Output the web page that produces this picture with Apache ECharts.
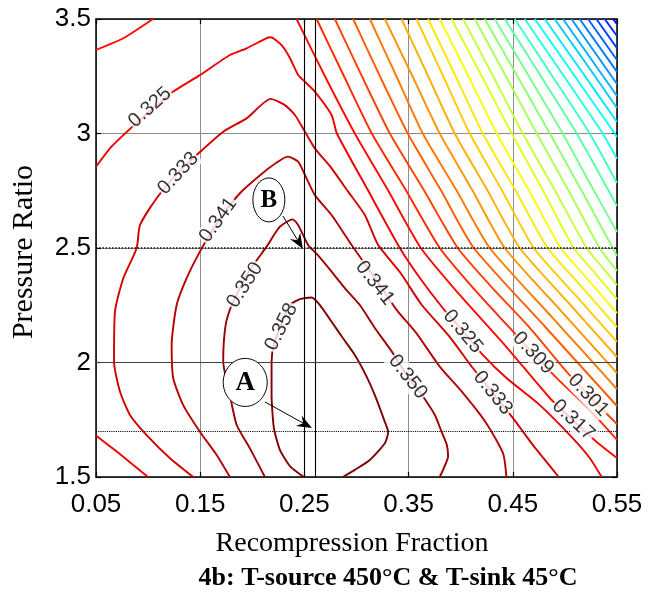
<!DOCTYPE html>
<html><head><meta charset="utf-8">
<script src="https://cdn.jsdelivr.net/npm/echarts/dist/echarts.min.js"></script>
<style>html,body{margin:0;padding:0;background:#fff}#c{width:659px;height:595px}</style>
</head><body><div id="c"></div>
<script>
// ---- tick labels ----
const xTickLabels = ['0.05','0.15','0.25','0.35','0.45','0.55'];
const yTickLabels = ['1.5','2','2.5','3','3.5'];

// ---- contour levels (descending) ----
const levels = [0.358,0.350,0.341,0.333,0.325,0.317,0.309,0.301,0.293,0.285,0.277,0.269,0.261,0.253,0.245,0.237,0.229,0.221,0.213,0.205,0.197,0.189,0.181,0.173,0.165,0.157,0.149,0.141,0.133,0.125,0.117,0.109,0.101];

// ---- contour paths [recompression fraction, pressure ratio] ----
const c358 = [[0.2495,1.5],[0.2361,1.548],[0.2265,1.618],[0.2207,1.714],[0.2185,1.858],[0.2185,2.002],[0.2207,2.076],[0.2294,2.186],[0.2361,2.251],[0.2457,2.277],[0.2569,2.284],[0.2649,2.251],[0.2761,2.178],[0.2869,2.107],[0.2984,2.033],[0.3090,1.945],[0.3176,1.858],[0.3272,1.741],[0.3304,1.697],[0.3272,1.647],[0.3128,1.574],[0.2984,1.531],[0.2869,1.5]];
const c350 = [[0.2121,1.5],[0.1977,1.625],[0.1850,1.727],[0.1785,1.858],[0.1721,2.003],[0.1728,2.098],[0.1754,2.186],[0.1833,2.282],[0.1977,2.404],[0.2137,2.506],[0.2265,2.593],[0.2387,2.625],[0.2440,2.600],[0.2536,2.513],[0.2629,2.469],[0.2761,2.397],[0.2888,2.325],[0.3032,2.251],[0.3176,2.151],[0.3349,2.041],[0.3493,1.937],[0.3608,1.871],[0.3752,1.771],[0.3816,1.698],[0.3867,1.640],[0.3879,1.589],[0.3838,1.539],[0.3799,1.5]];
const c341 = [[0.1785,1.5],[0.1658,1.596],[0.1497,1.698],[0.1337,1.814],[0.1241,1.931],[0.1226,2.076],[0.1274,2.251],[0.1370,2.368],[0.1497,2.484],[0.1670,2.614],[0.1881,2.739],[0.2137,2.841],[0.2344,2.899],[0.2440,2.877],[0.2505,2.819],[0.2600,2.731],[0.2761,2.644],[0.2953,2.513],[0.3176,2.369],[0.3387,2.229],[0.3576,2.127],[0.3799,1.982],[0.4023,1.866],[0.4247,1.734],[0.4407,1.603],[0.4439,1.5]];
const c333 = [[0.1433,1.5],[0.1210,1.582],[0.0986,1.683],[0.0826,1.771],[0.0730,1.873],[0.0673,2.003],[0.0682,2.222],[0.0762,2.368],[0.0890,2.499],[0.0922,2.600],[0.1082,2.717],[0.1286,2.828],[0.1497,2.919],[0.1721,3.008],[0.1945,3.066],[0.2176,3.151],[0.2313,3.124],[0.2409,3.081],[0.2505,3.008],[0.2600,2.935],[0.2761,2.848],[0.2920,2.746],[0.3080,2.644],[0.3208,2.513],[0.3416,2.395],[0.3627,2.251],[0.3896,2.111],[0.4116,1.976],[0.4308,1.867],[0.4500,1.758],[0.4692,1.640],[0.4941,1.5]];
const c325 = [[0.0500,2.855],[0.0634,2.935],[0.0762,2.993],[0.1018,3.098],[0.1241,3.183],[0.1497,3.255],[0.1785,3.343],[0.1945,3.372],[0.2137,3.416],[0.2176,3.420],[0.2281,3.386],[0.2361,3.330],[0.2440,3.255],[0.2505,3.226],[0.2600,3.183],[0.2761,3.081],[0.2812,3.000],[0.3109,2.753],[0.3416,2.500],[0.3608,2.369],[0.3828,2.238],[0.4020,2.138],[0.4212,2.033],[0.4439,1.932],[0.4759,1.814],[0.5075,1.670],[0.5238,1.583],[0.5353,1.5]];
const c325corner = [[0.0500,1.681],[0.0699,1.611],[0.0858,1.552],[0.0999,1.5]];
const c317left = [[0.0500,3.365],[0.0762,3.416],[0.1047,3.5]];
const c317 = [[0.2425,3.5],[0.2696,3.251],[0.2984,3.0],[0.3301,2.753],[0.3617,2.5],[0.3991,2.295],[0.4423,2.076],[0.4855,1.845],[0.5075,1.749],[0.5305,1.653],[0.55,1.583]];
const c309 = [[0.2617,3.5],[0.2879,3.251],[0.3147,3.0],[0.3473,2.753],[0.3799,2.5],[0.4135,2.317],[0.4471,2.151],[0.4691,2.041],[0.4922,1.932],[0.5238,1.793],[0.55,1.662]];
const c301 = [[0.2792,3.5],[0.3051,3.251],[0.3320,3.0],[0.3646,2.753],[0.3972,2.5],[0.4279,2.338],[0.4663,2.151],[0.5018,1.959],[0.5224,1.858],[0.55,1.731]];
const c293 = [[0.2968,3.5],[0.3224,3.251],[0.3492,3.0],[0.3809,2.753],[0.4126,2.5],[0.4812,2.155],[0.55,1.810]];
const c285 = [[0.3128,3.5],[0.3382,3.251],[0.3636,3.0],[0.3958,2.753],[0.4279,2.5],[0.4888,2.192],[0.55,1.884]];
const c277 = [[0.3272,3.5],[0.3536,3.251],[0.3799,3.0],[0.4111,2.753],[0.4423,2.5],[0.4960,2.227],[0.55,1.954]];
const c269 = [[0.3432,3.5],[0.3687,3.251],[0.3943,3.0],[0.4255,2.753],[0.4567,2.5],[0.5032,2.262],[0.55,2.024]];
const c261 = [[0.3576,3.5],[0.3831,3.251],[0.4087,3.0],[0.4394,2.753],[0.4701,2.5],[0.5099,2.295],[0.55,2.090]];
const c253 = [[0.3687,3.5],[0.3950,3.251],[0.4212,3.0],[0.4524,2.753],[0.4835,2.5],[0.5166,2.328],[0.55,2.155]];
const c245 = [[0.3799,3.5],[0.4073,3.251],[0.4346,3.0],[0.4653,2.753],[0.4960,2.5],[0.5229,2.358],[0.55,2.216]];
const c237 = [[0.3912,3.5],[0.4201,3.251],[0.4490,3.0],[0.4787,2.753],[0.5085,2.5],[0.5291,2.389],[0.55,2.277]];
const c229 = [[0.4023,3.5],[0.4310,3.251],[0.4596,3.0],[0.4902,2.753],[0.5209,2.5],[0.5353,2.419],[0.55,2.338]];
const c221 = [[0.4135,3.5],[0.4432,3.251],[0.4730,3.0],[0.5032,2.753],[0.5334,2.5],[0.55,2.400]];
const c213 = [[0.4231,3.5],[0.4543,3.251],[0.4855,3.0],[0.5157,2.753],[0.5459,2.5],[0.55,2.465]];
const c205 = [[0.4327,3.5],[0.4653,3.251],[0.4979,3.0],[0.5238,2.784],[0.55,2.570]];
const c197 = [[0.4423,3.5],[0.4768,3.251],[0.5114,3.0],[0.55,2.683]];
const c189 = [[0.4519,3.5],[0.4879,3.251],[0.5238,3.0],[0.55,2.784]];
const c181 = [[0.4615,3.5],[0.4989,3.251],[0.5363,3.0],[0.55,2.889]];
const c173 = [[0.4711,3.5],[0.5094,3.251],[0.5478,3.0],[0.55,2.985]];
const c165 = [[0.4807,3.5],[0.5152,3.277],[0.55,3.050]];
const c157 = [[0.4902,3.5],[0.5200,3.308],[0.55,3.111]];
const c149 = [[0.4982,3.5],[0.55,3.164]];
const c141 = [[0.5063,3.5],[0.55,3.216]];
const c133 = [[0.5142,3.5],[0.55,3.269]];
const c125 = [[0.5222,3.5],[0.55,3.321]];
const c117 = [[0.5302,3.5],[0.55,3.373]];
const c109 = [[0.5382,3.5],[0.55,3.426]];
const c101 = [[0.5462,3.5],[0.55,3.478]];

const contours = [
  [0.358,c358],[0.350,c350],[0.341,c341],[0.333,c333],[0.325,c325],[0.325,c325corner],
  [0.317,c317left],[0.317,c317],[0.309,c309],[0.301,c301],[0.293,c293],[0.285,c285],
  [0.277,c277],[0.269,c269],[0.261,c261],[0.253,c253],[0.245,c245],[0.237,c237],
  [0.229,c229],[0.221,c221],[0.213,c213],[0.205,c205],[0.197,c197],[0.189,c189],
  [0.181,c181],[0.173,c173],[0.165,c165],[0.157,c157],[0.149,c149],[0.141,c141],
  [0.133,c133],[0.125,c125],[0.117,c117],[0.109,c109],[0.101,c101]
];

// ---- contour labels: text, x, y, angle ----
const labelText  = ['0.325','0.333','0.341','0.350','0.358','0.341','0.350','0.325','0.333','0.309','0.317','0.301'];
const labelX     = [0.1018,0.1289,0.1673,0.1929,0.2279,0.3176,0.3492,0.4020,0.4308,0.4696,0.5080,0.5224];
const labelY     = [3.114,2.826,2.622,2.338,2.155,2.347,1.937,2.135,1.867,2.041,1.749,1.858];
const labelAngle = [42,47,54,57,63,-52,-52,-50,-51,-47,-43,-47];

// ---- annotations ----
const markerB = {text:'B', x:0.2159, y:2.710, from:[0.2294,2.640], to:[0.2485,2.497]};
const markerA = {text:'A', x:0.1932, y:1.913, from:[0.2121,1.828], to:[0.2572,1.714]};
const refX = [0.25, 0.2603];
const refY = [2.5, 1.7];

function jet(t){
  const c=v=>Math.max(0,Math.min(1,v));
  const r=c(1.5-Math.abs(4*t-3)), g=c(1.5-Math.abs(4*t-2)), b=c(1.5-Math.abs(4*t-1));
  return 'rgb('+Math.round(r*255)+','+Math.round(g*255)+','+Math.round(b*255)+')';
}
function levelColor(lv){ const k=levels.indexOf(lv); return jet(1-k*0.027); }

const chart = echarts.init(document.getElementById('c'), null, {renderer:'canvas'});
const series = contours.map(([lv,pts])=>({
  type:'line', data:pts, showSymbol:false, symbol:'none', smooth:0.2, silent:true,
  lineStyle:{color:levelColor(lv), width:1.9}, z:3
}));
series.push({
  type:'line', data:[], silent:true, z:4,
  markLine:{silent:true, symbol:'none', label:{show:false}, animation:false,
    data:[
      {xAxis:refX[0], lineStyle:{color:'#000', width:1.1, type:'solid'}},
      {xAxis:refX[1], lineStyle:{color:'#000', width:1.1, type:'solid'}},
      {yAxis:refY[0], lineStyle:{color:'#111', width:1.6, type:'dotted'}},
      {yAxis:refY[1], lineStyle:{color:'#000', width:1.1, type:'dotted'}},
      {yAxis:2.0, lineStyle:{color:'#444', width:1, type:'solid'}}
    ]}
});
series.push({
  type:'scatter', symbolSize:1, itemStyle:{color:'rgba(0,0,0,0)'}, silent:true, z:8,
  data: labelText.map((t,i)=>({value:[labelX[i],labelY[i]], label:{show:true, formatter:t, rotate:labelAngle[i]}})),
  label:{show:true, position:'inside', fontSize:20, fontFamily:'Liberation Sans', color:'#000',
         backgroundColor:'#fff', padding:[0,1]}
});

function fmt(arr){ return v=>{ const s=arr.find(a=>Math.abs(parseFloat(a)-v)<1e-6); return s===undefined?'':s; }; }
const axisCommon = {
  axisLine:{show:true, lineStyle:{color:'#000', width:1.5}},
  axisTick:{show:true, inside:true, length:5, lineStyle:{color:'#000', width:1.2}}
};
const titles = [
  {type:'text', x:352, y:544, style:{text:'Recompression Fraction', font:'28px "Liberation Serif"', fill:'#000', align:'center', verticalAlign:'middle'}},
  {type:'text', x:24, y:252, rotation:Math.PI/2, style:{text:'Pressure Ratio', font:'30px "Liberation Serif"', fill:'#000', align:'center', verticalAlign:'middle'}},
  {type:'text', x:388, y:578, style:{text:'4b: T-source 450°C & T-sink 45°C', font:'bold 26px "Liberation Serif"', fill:'#000', align:'center', verticalAlign:'middle'}}
];
chart.setOption({
  animation:false,
  backgroundColor:'#fff',
  grid:{left:96, right:42, top:19, bottom:118, containLabel:false},
  xAxis:[
    Object.assign({type:'value', min:0.05, max:0.55, interval:0.1, position:'bottom',
      axisLabel:{formatter:fmt(xTickLabels), fontSize:26, fontFamily:'Liberation Sans', color:'#000', margin:15},
      splitLine:{show:true, lineStyle:{color:'#8c8c8c', width:1}}}, axisCommon),
    Object.assign({type:'value', min:0.05, max:0.55, interval:0.1, position:'top',
      axisLabel:{show:false}, splitLine:{show:false}}, axisCommon)
  ],
  yAxis:[
    Object.assign({type:'value', min:1.5, max:3.5, interval:0.5, position:'left',
      axisLabel:{formatter:fmt(yTickLabels), fontSize:26, fontFamily:'Liberation Sans', color:'#000', margin:5},
      splitLine:{show:true, lineStyle:{color:'#8c8c8c', width:1}}}, axisCommon),
    Object.assign({type:'value', min:1.5, max:3.5, interval:0.5, position:'right',
      axisLabel:{show:false}, splitLine:{show:false}}, axisCommon)
  ],
  series: series,
  graphic: titles
});

function arrow(m){
  const p0 = chart.convertToPixel({gridIndex:0}, m.from);
  const p1 = chart.convertToPixel({gridIndex:0}, m.to);
  const dx=p1[0]-p0[0], dy=p1[1]-p0[1], L=Math.hypot(dx,dy), ux=dx/L, uy=dy/L, nx=-uy, ny=ux;
  const len=15, hw=6, notch=10;
  const b=[p1[0]-ux*len, p1[1]-uy*len], n=[p1[0]-ux*notch, p1[1]-uy*notch];
  return [
    {type:'line', z:102, shape:{x1:p0[0], y1:p0[1], x2:n[0], y2:n[1]}, style:{stroke:'#000', lineWidth:1}},
    {type:'polygon', z:102, shape:{points:[p1, [b[0]+nx*hw, b[1]+ny*hw], n, [b[0]-nx*hw, b[1]-ny*hw]]}, style:{fill:'#000'}}
  ];
}
const pB = chart.convertToPixel({gridIndex:0}, [markerB.x, markerB.y]);
const pA = chart.convertToPixel({gridIndex:0}, [markerA.x, markerA.y]);
chart.setOption({graphic: titles.concat([
  {type:'ellipse', z:100, shape:{cx:pB[0], cy:pB[1], rx:16, ry:22}, style:{fill:'#fff', stroke:'#000', lineWidth:1}},
  {type:'text', z:101, x:pB[0], y:pB[1]+1, style:{text:markerB.text, font:'bold 25px "Liberation Serif"', fill:'#000', align:'center', verticalAlign:'middle'}},
  {type:'ellipse', z:100, shape:{cx:pA[0], cy:pA[1], rx:22, ry:24}, style:{fill:'#fff', stroke:'#000', lineWidth:1}},
  {type:'text', z:101, x:pA[0], y:pA[1]+1, style:{text:markerA.text, font:'bold 27px "Liberation Serif"', fill:'#000', align:'center', verticalAlign:'middle'}}
], arrow(markerB), arrow(markerA))});
</script></body></html>
